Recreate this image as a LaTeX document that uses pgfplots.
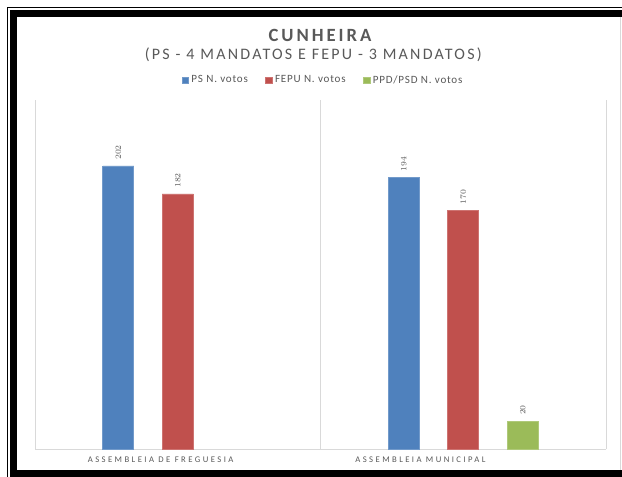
\documentclass[border=0pt]{standalone}
\usepackage{fontspec}
\setmainfont{Carlito}
\usepackage{pgfplots}
\pgfplotsset{compat=1.18}
\definecolor{cblue}{HTML}{4F81BD}
\definecolor{cred}{HTML}{C0504D}
\definecolor{cgreen}{HTML}{9BBB59}
\definecolor{txt}{HTML}{595959}
\definecolor{gridc}{HTML}{D9D9D9}
\newfontfamily\spacedA[LetterSpace=14]{Carlito}
\newfontfamily\spacedB[LetterSpace=28]{Carlito}
\newfontfamily\spacedT[LetterSpace=16]{Carlito}
\newfontfamily\spacedL[LetterSpace=7]{Carlito}
\begin{document}
\begin{tikzpicture}
\path[use as bounding box, fill=white] (0,0) rectangle (466.5pt,-357.75pt);
% outer frame
\draw[black, line width=0.9pt] (5.6pt,-357.75pt) -- (5.6pt,-5.6pt) -- (466.5pt,-5.6pt);
\fill[black] (7.5pt,-357.75pt) rectangle (12.75pt,-7.5pt);
\fill[black] (7.5pt,-7.5pt) rectangle (466.5pt,-12.75pt);
\fill[black] (7.5pt,-352.5pt) rectangle (466.5pt,-357.75pt);
\draw[gridc, line width=0.6pt] (465.5pt,-12.75pt) -- (465.5pt,-352.5pt);
% titles
\node[anchor=base, text=txt, font=\spacedT\bfseries\fontsize{14pt}{16pt}\selectfont] at (240pt,-31.5pt) {CUNHEIRA};
\node[anchor=base, text=txt, font=\spacedA\fontsize{12pt}{14pt}\selectfont] at (235pt,-45pt) {(PS - 4 MANDATOS E FEPU - 3 MANDATOS)};
\begin{axis}[
  at={(26.25pt,-336.75pt)}, anchor=south west,
  scale only axis, width=428.25pt, height=261.75pt,
  xmin=-0.5, xmax=1.5, ymin=0, ymax=249,
  ybar,
  axis x line*=bottom, axis y line=none,
  x axis line style={gridc, line width=0.6pt, -},
  xtick={-0.06,0.85},
  xticklabels={ASSEMBLEIA DE FREGUESIA, ASSEMBLEIA MUNICIPAL},
  xticklabel style={text=txt, font=\spacedB\fontsize{6.5pt}{8pt}\selectfont, yshift=-2pt},
  major tick length=0pt,
  extra x ticks={-0.5,0.5,1.5},
  extra x tick labels={},
  extra x tick style={grid=major, major grid style={gridc, line width=0.6pt}, major tick length=0pt},
  bar width=0.1086,
  nodes near coords,
  every node near coord/.append style={rotate=90, anchor=west, text=txt, font=\fontsize{6pt}{7pt}\selectfont, xshift=1pt},
  legend style={at={(0.505,1.0)}, anchor=south, yshift=7pt, draw=none, fill=none,
    legend columns=-1, font=\spacedL\fontsize{8.3pt}{10pt}\selectfont, text=txt,
    /tikz/every even column/.append style={column sep=11pt}},
  legend image code/.code={\fill[#1] (0pt,-2.5pt) rectangle (5pt,2.5pt);},
]
\addplot[fill=cblue, draw=cblue!80!white, bar shift=-0.2084] coordinates {(0,202) (1,194)};
\addplot[fill=cred, draw=cred!80!white, bar shift=0] coordinates {(0,182) (1,170)};
\addplot[fill=cgreen, draw=cgreen!80!white, bar shift=0.2084] coordinates {(1,20)};
\legend{PS N. votos, FEPU N. votos, PPD/PSD N. votos}
\end{axis}
\end{tikzpicture}
\end{document}
